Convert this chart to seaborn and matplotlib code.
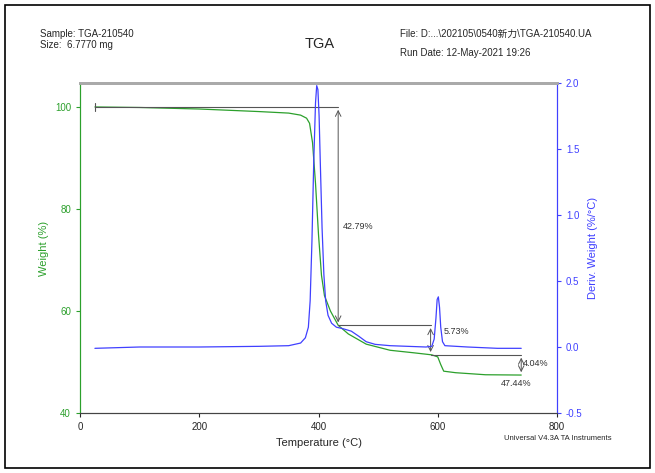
import matplotlib
matplotlib.use("Agg")
import matplotlib.pyplot as plt
import seaborn as sns

temp_w = [25, 100, 200, 300, 350, 370, 380, 385, 390, 395, 400, 405, 410, 420, 433, 450, 480, 520, 560, 590, 600, 605, 610, 630, 680, 740]
weight = [100, 99.9, 99.6, 99.1, 98.8, 98.4, 97.8, 96.8, 93, 85, 75, 67, 63, 60, 57.2, 55.5, 53.5, 52.3, 51.8, 51.4, 51.0, 49.5, 48.2, 47.9, 47.5, 47.44]
temp_d = [25, 100, 200, 300, 350, 370, 378, 383, 386, 389, 392, 395, 397, 399, 401, 403, 406, 409, 412, 416, 422, 430, 440, 455, 468, 480, 495, 520, 580, 590, 594, 597, 599, 601, 603, 605, 608, 612, 650, 700, 740]
deriv = [-0.01, 0.0, 0.0, 0.005, 0.01, 0.03, 0.07, 0.15, 0.35, 0.8, 1.4, 1.85, 1.98, 1.95, 1.75, 1.4, 0.9, 0.55, 0.35, 0.24, 0.18, 0.15, 0.14, 0.12, 0.08, 0.04, 0.02, 0.01, 0.0, 0.005, 0.06, 0.22, 0.36, 0.38, 0.3, 0.15, 0.04, 0.01, 0.0, -0.01, -0.01]
steps_t = [433, 588, 740]
steps_w = [100, 57.2, 51.4, 47.44]
step_labels = ["42.79%", "5.73%", "4.04%"]

sns.set_style("white")
plt.rcParams['font.family'] = ['Liberation Sans', 'Noto Sans CJK SC', 'DejaVu Sans']
fig = plt.figure(figsize=(6.55, 4.73), dpi=100)
ax = fig.add_axes([80/655, 1-413/473, (557-80)/655, (413-83)/473])
ax2 = ax.twinx()

sns.lineplot(x=temp_w, y=weight, ax=ax, color="#2ca02c", lw=0.9, estimator=None, sort=False)
sns.lineplot(x=temp_d, y=deriv, ax=ax2, color="#4040ff", lw=0.9, estimator=None, sort=False)

ax.set_xlim(0, 800)
ax.set_ylim(40, 104.7)
ax2.set_ylim(-0.5, 2.0)
ax.set_xticks([0, 200, 400, 600, 800])
ax.set_yticks([40, 60, 80, 100])
ax2.set_yticks([-0.5, 0.0, 0.5, 1.0, 1.5, 2.0])
ax2.set_yticklabels(["-0.5", "0.0", "0.5", "1.0", "1.5", "2.0"])
ax.tick_params(axis='y', colors="#2ca02c", labelsize=7, direction='out', length=3, left=True)
ax.tick_params(axis='x', labelsize=7, length=3, bottom=True)
ax2.tick_params(axis='y', colors="#4040ff", labelsize=7, length=3, right=True)
ax.set_xlabel("Temperature (°C)", fontsize=8)
ax.set_ylabel("Weight (%)", fontsize=8, color="#2ca02c")
ax2.set_ylabel("Deriv. Weight (%/°C)", fontsize=8, color="#4040ff")
for a in (ax, ax2):
    a.spines['left'].set_color("#2ca02c")
    a.spines['right'].set_color("#4040ff")
    a.spines['top'].set_color("#aaaaaa")
    a.spines['top'].set_linewidth(2)
    a.spines['bottom'].set_color("#444444")

# step annotations
gray = "#555555"
starts = [25] + steps_t[:-1]
for i, t in enumerate(steps_t):
    ax.plot([starts[i], t], [steps_w[i], steps_w[i]], color=gray, lw=0.8)
    ax.annotate("", xy=(t, steps_w[i + 1]), xytext=(t, steps_w[i]),
                arrowprops=dict(arrowstyle="<->", color=gray, lw=0.7))
ax.plot([25, 25], [99.3, 100.7], color=gray, lw=0.8)
ax.text(440, 76, step_labels[0], fontsize=6.5, color="#333333")
ax.text(610, 55.5, step_labels[1], fontsize=6.5, color="#333333")
ax.text(743, 49.3, step_labels[2], fontsize=6.5, color="#333333")
ax.text(705, 45.3, f"{steps_w[-1]:.2f}%", fontsize=6.5, color="#333333")

fig.text(40/655, 1-37/473, "Sample: TGA-210540", fontsize=7)
fig.text(40/655, 1-48/473, "Size:  6.7770 mg", fontsize=7)
fig.text(320/655, 1-48/473, "TGA", fontsize=10.5, ha='center')
fig.text(400/655, 1-37/473, "File: D:...\\202105\\0540新力\\TGA-210540.UA", fontsize=7)
fig.text(400/655, 1-56/473, "Run Date: 12-May-2021 19:26", fontsize=7)
fig.text(612/655, 1-440/473, "Universal V4.3A TA Instruments", fontsize=5.5, ha='right')
fig.patches.append(plt.Rectangle((0.008, 0.01), 0.984, 0.98, transform=fig.transFigure,
                                 fill=False, ec="black", lw=1.2))
fig.savefig("out.png", dpi=100)
